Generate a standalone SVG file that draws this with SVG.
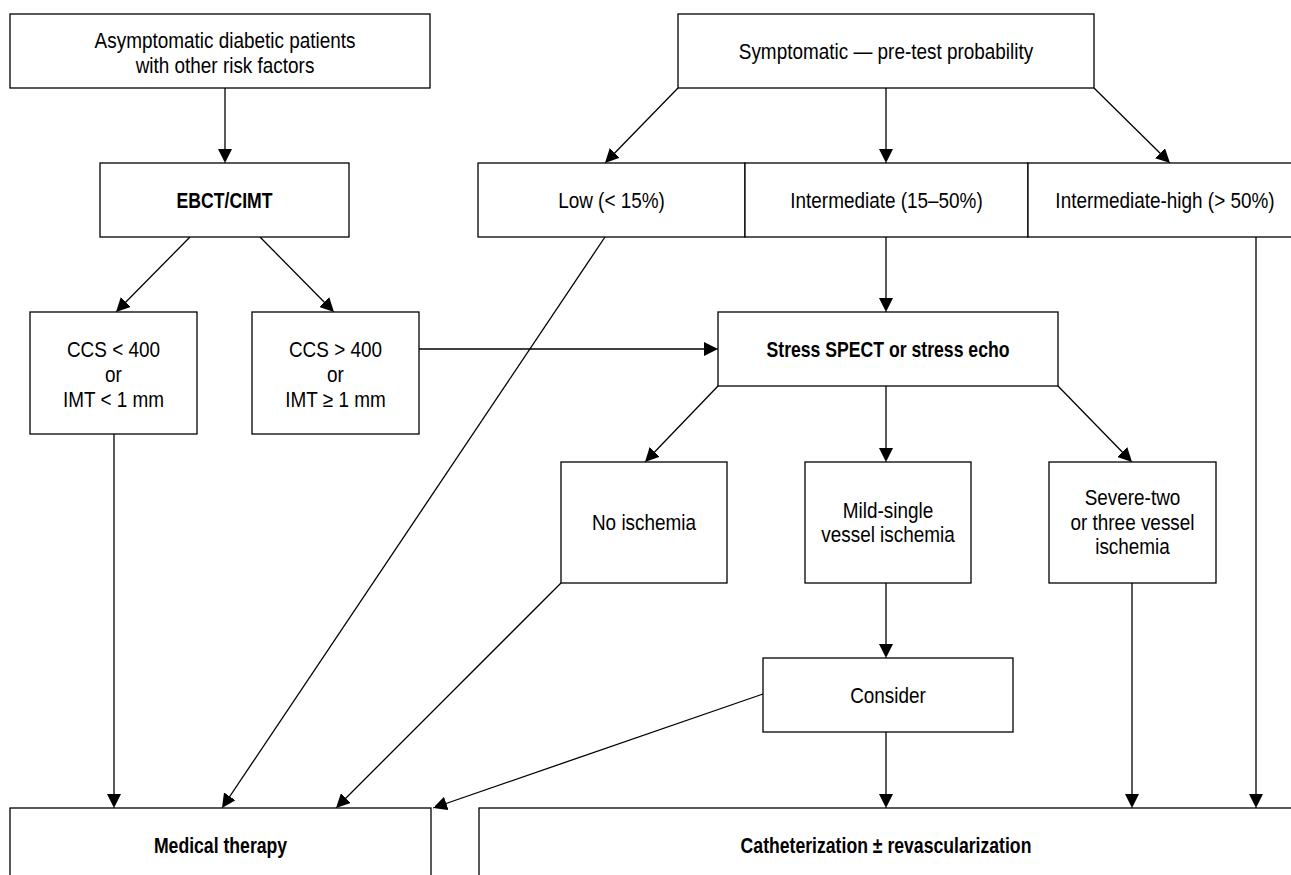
<svg xmlns="http://www.w3.org/2000/svg" width="1291" height="875" viewBox="0 0 1291 875">
<defs>
<marker id="ah" viewBox="0 0 12 14" refX="14" refY="7" markerWidth="12" markerHeight="14" markerUnits="userSpaceOnUse" orient="auto">
<path d="M0,0 L14,7 L0,14 Z" fill="#000"/>
</marker>
<style>
rect{fill:#fff;stroke:#000;stroke-width:1.3}
text{font-family:"Liberation Sans",Arial,sans-serif;font-size:21.5px;fill:#000;text-anchor:middle}
.b{font-weight:bold}
#connectors line{stroke:#000;stroke-width:1.3;marker-end:url(#ah)}
</style>
</defs>
<rect x="0" y="0" width="1291" height="875" style="fill:#fff;stroke:none"/>
<g id="connectors">
<line x1="225" y1="88" x2="225" y2="163"/>
<line x1="190" y1="237" x2="116" y2="312"/>
<line x1="260" y1="237" x2="334" y2="312"/>
<line x1="419" y1="349" x2="718" y2="349"/>
<line x1="678" y1="88" x2="605" y2="163"/>
<line x1="886" y1="88" x2="886" y2="163"/>
<line x1="1094" y1="88" x2="1170" y2="163"/>
<line x1="886" y1="237" x2="886" y2="312"/>
<line x1="718" y1="386" x2="645" y2="462"/>
<line x1="886" y1="386" x2="886" y2="462"/>
<line x1="1058" y1="386" x2="1132" y2="462"/>
<line x1="886" y1="583" x2="886" y2="658"/>
<line x1="114" y1="434" x2="114" y2="808"/>
<line x1="605" y1="237" x2="222" y2="808"/>
<line x1="561" y1="583" x2="336" y2="808"/>
<line x1="763" y1="694" x2="433" y2="808"/>
<line x1="886" y1="732" x2="886" y2="808"/>
<line x1="1132" y1="583" x2="1132" y2="808"/>
<line x1="1256" y1="237" x2="1256" y2="808"/>
</g>
<g id="n-asym"><rect x="10" y="14" width="420" height="74"/><text transform="translate(225,47.5) scale(0.88,1)">Asymptomatic diabetic patients</text><text transform="translate(225,73) scale(0.88,1)">with other risk factors</text></g>
<g id="n-ebct"><rect x="100" y="163" width="249" height="74"/><text class="b" transform="translate(224.5,207.5) scale(0.82,1)">EBCT/CIMT</text></g>
<g id="n-ccs-low"><rect x="30" y="312" width="167" height="122"/><text transform="translate(113.5,357) scale(0.88,1)">CCS &lt; 400</text><text transform="translate(113.5,382) scale(0.88,1)">or</text><text transform="translate(113.5,407) scale(0.88,1)">IMT &lt; 1 mm</text></g>
<g id="n-ccs-high"><rect x="252" y="312" width="167" height="122"/><text transform="translate(335.5,357) scale(0.88,1)">CCS &gt; 400</text><text transform="translate(335.5,382) scale(0.88,1)">or</text><text transform="translate(335.5,407) scale(0.88,1)">IMT ≥ 1 mm</text></g>
<g id="n-symp"><rect x="678" y="14" width="416" height="74"/><text transform="translate(886,58.5) scale(0.88,1)">Symptomatic — pre-test probability</text></g>
<g id="n-low"><rect x="478" y="163" width="267" height="74"/><text transform="translate(611.5,207.5) scale(0.88,1)">Low (&lt; 15%)</text></g>
<g id="n-int"><rect x="745" y="163" width="283" height="74"/><text transform="translate(886.5,207.5) scale(0.88,1)">Intermediate (15–50%)</text></g>
<g id="n-inthigh"><rect x="1028" y="163" width="270" height="74"/><text transform="translate(1165,207.5) scale(0.88,1)">Intermediate-high (&gt; 50%)</text></g>
<g id="n-stress"><rect x="718" y="312" width="340" height="74"/><text class="b" transform="translate(888,357) scale(0.82,1)">Stress SPECT or stress echo</text></g>
<g id="n-noisch"><rect x="561" y="462" width="166" height="121"/><text transform="translate(644,530) scale(0.88,1)">No ischemia</text></g>
<g id="n-mild"><rect x="805" y="462" width="166" height="121"/><text transform="translate(888,518) scale(0.88,1)">Mild-single</text><text transform="translate(888,542) scale(0.88,1)">vessel ischemia</text></g>
<g id="n-severe"><rect x="1049" y="462" width="167" height="121"/><text transform="translate(1132.5,505) scale(0.88,1)">Severe-two</text><text transform="translate(1132.5,529.5) scale(0.88,1)">or three vessel</text><text transform="translate(1132.5,554) scale(0.88,1)">ischemia</text></g>
<g id="n-consider"><rect x="763" y="658" width="250" height="74"/><text transform="translate(888,702.5) scale(0.88,1)">Consider</text></g>
<g id="n-medical"><rect x="10" y="808" width="421" height="80"/><text class="b" transform="translate(220.5,852.5) scale(0.82,1)">Medical therapy</text></g>
<g id="n-cath"><rect x="479" y="808" width="820" height="80"/><text class="b" transform="translate(886,852.5) scale(0.82,1)">Catheterization ± revascularization</text></g>
</svg>
